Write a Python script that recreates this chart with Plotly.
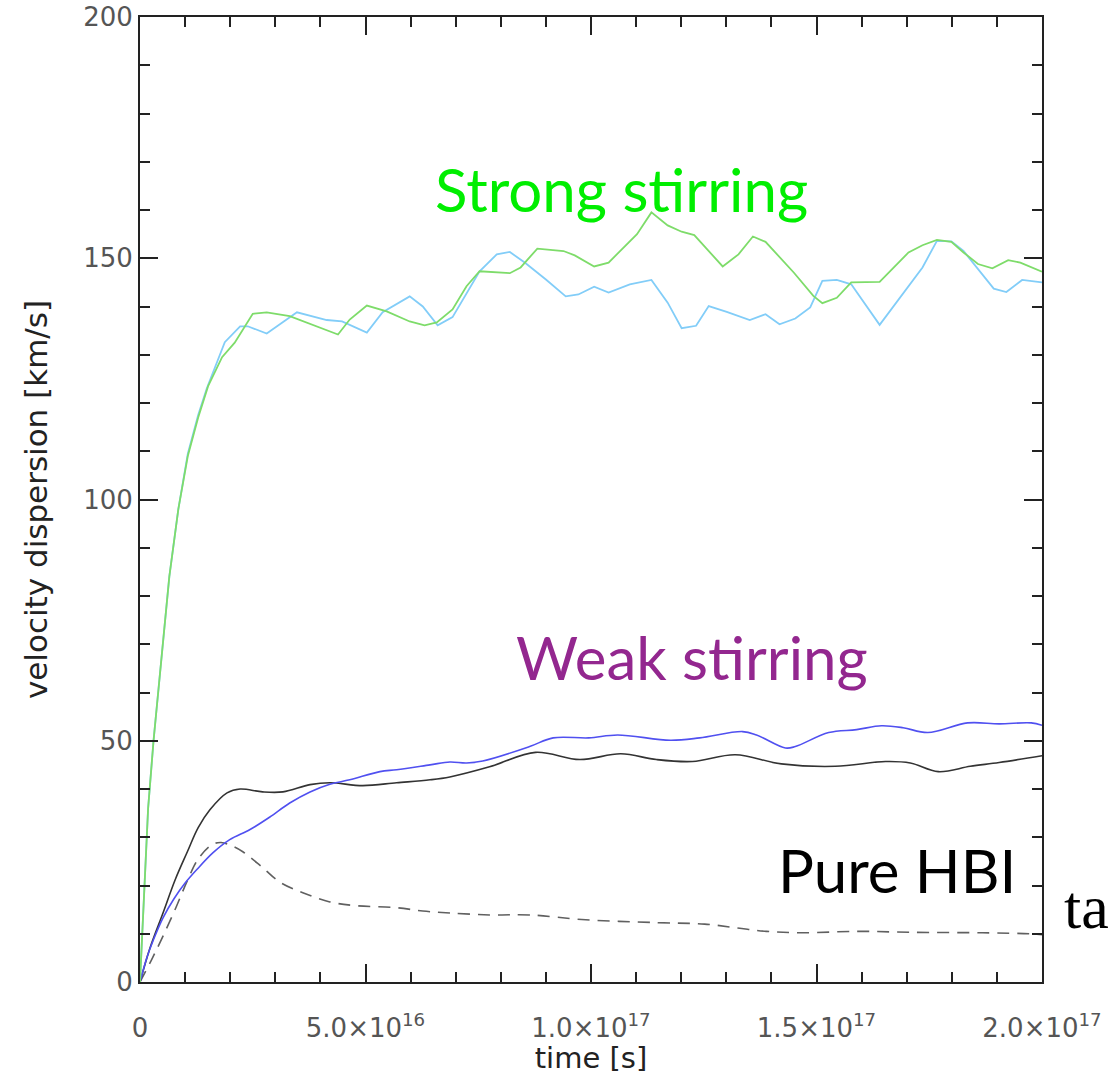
import plotly.graph_objects as go

# ---------------- data (time in units of 1e16 s, velocity dispersion in km/s) ----------------
strong_green_t = [0, 0.18, 0.30, 0.50, 0.65, 0.85, 1.06, 1.29, 1.51, 1.82, 2.10, 2.50, 2.81, 3.32, 4.39, 4.65,
                  5.03, 5.47, 5.98, 6.31, 6.58, 6.93, 7.24, 7.53, 8.20, 8.44, 8.81, 9.39, 9.64, 10.07, 10.39,
                  11.02, 11.34, 11.70, 12.01, 12.29, 12.92, 13.27, 13.59, 13.87, 14.22, 14.50, 14.93, 15.13,
                  15.45, 15.77, 16.40, 16.72, 17.04, 17.35, 17.67, 17.99, 18.26, 18.58, 18.90, 19.25, 19.52, 20.0]
strong_green_v = [0, 36, 50, 70, 84, 98, 109, 117, 123.5, 129.5, 132.5, 138.5, 138.8, 138, 134.2, 137.3,
                  140.2, 139, 136.9, 136.1, 136.7, 139.4, 144.2, 147.3, 146.9, 148.1, 152, 151.5, 150.6, 148.3, 149.1,
                  155, 159.5, 156.8, 155.5, 154.8, 148.3, 150.8, 154.5, 153.4, 149.8, 147, 142.2, 140.7,
                  141.8, 145, 145.1, 148.1, 151.2, 152.7, 153.8, 153.4, 151.2, 148.8, 147.9, 149.6, 149.1, 147.2]

strong_blue_t = [0, 0.18, 0.30, 0.50, 0.65, 0.85, 1.06, 1.29, 1.48, 1.88, 2.22, 2.39, 2.81, 3.48, 4.14, 4.48,
                 5.03, 5.38, 5.98, 6.27, 6.60, 6.93, 7.53, 7.91, 8.20, 8.53, 9.00, 9.44, 9.72, 10.07, 10.39,
                 10.86, 11.34, 11.70, 12.01, 12.33, 12.61, 13.01, 13.52, 13.87, 14.18, 14.53, 14.86, 15.13,
                 15.45, 15.77, 16.40, 17.35, 17.67, 17.99, 18.26, 18.93, 19.21, 19.56, 20.0]
strong_blue_v = [0, 36, 50, 70, 84, 98, 109.5, 117.5, 123, 132.6, 135.9, 135.9, 134.4, 138.8, 137.2, 136.9,
                 134.6, 138.8, 142.1, 140, 136.1, 137.8, 147.3, 150.8, 151.3, 149.1, 145.6, 142.1, 142.5, 144.1, 142.9,
                 144.6, 145.5, 140.8, 135.5, 136, 140.1, 138.9, 137.2, 138.4, 136.3, 137.5, 139.8, 145.3,
                 145.5, 144.6, 136.2, 148.1, 153.6, 153.5, 151.5, 143.7, 143, 145.5, 145]

weak_blue_t = [0, 0.15, 0.30, 0.51, 0.75, 1.0, 1.26, 1.62, 1.99, 2.44, 2.88, 3.32, 3.77, 4.21, 4.65, 5.32, 5.69,
               6.43, 6.87, 7.24, 7.60, 8.64, 9.16, 9.95, 10.59, 11.76, 12.41, 13.36, 13.67, 14.31, 14.53,
               15.27, 15.89, 16.44, 16.92, 17.47, 18.35, 19.05, 19.76, 20.0]
weak_blue_v = [0, 5, 8.8, 13.3, 17.2, 20.5, 23.3, 26.8, 29.5, 31.6, 34.2, 37.1, 39.4, 41.0, 41.9, 43.6, 44,
               45, 45.6, 45.4, 45.8, 48.8, 50.6, 50.6, 51.2, 50.1, 50.6, 51.9, 51.2, 48.5, 48.8,
               51.7, 52.3, 53.1, 52.7, 51.7, 53.7, 53.5, 53.7, 53.2]

weak_black_t = [0, 0.22, 0.51, 0.78, 1.05, 1.29, 1.55, 1.93, 2.22, 2.72, 3.17, 3.77, 4.21, 4.94, 5.69,
                6.43, 6.87, 7.75, 8.77, 9.75, 10.66, 11.45, 12.25, 13.20, 14.22, 15.42, 16.53, 17.08, 17.70,
                18.41, 19.05, 20.0]
weak_black_v = [0, 7.0, 14.3, 21.2, 27.0, 32.0, 35.7, 39.2, 40, 39.4, 39.4, 40.9, 41.3, 40.7, 41.3,
                41.9, 42.5, 44.6, 47.6, 46.1, 47.3, 46.1, 45.7, 47.1, 45.2, 44.7, 45.7, 45.4, 43.6,
                44.7, 45.5, 46.9]

hbi_t = [0, 0.25, 0.51, 0.8, 1.05, 1.29, 1.60, 1.80, 1.99, 2.28, 2.72, 3.10, 3.61, 4.21, 4.81, 5.69, 6.27, 6.87,
         7.75, 8.64, 9.88, 11.48, 12.52, 13.25, 13.89, 14.69, 15.89, 17.08, 18.68, 19.72, 20.0]
hbi_v = [0, 4.5, 9.5, 15.5, 21.0, 25.5, 28.5, 28.9, 28.4, 27, 23.7, 20.7, 18.5, 16.6, 15.8, 15.4, 14.7, 14.3,
         13.9, 13.9, 12.9, 12.3, 12, 11.2, 10.5, 10.2, 10.5, 10.3, 10.2, 10, 9.8]

x_tick_vals = [0, 5e16, 1e17, 1.5e17, 2e17]
x_tick_text = ["0", "5.0×10<sup>16</sup>", "1.0×10<sup>17</sup>", "1.5×10<sup>17</sup>", "2.0×10<sup>17</sup>"]
y_tick_vals = [0, 50, 100, 150, 200]

UNIT = 1e16


def scale(ts):
    return [t * UNIT for t in ts]


fig = go.Figure()
fig.add_trace(go.Scatter(x=scale(hbi_t), y=hbi_v, mode="lines", line_shape="spline",
                         line=dict(color="#606060", width=1.6, dash="12px,8px")))
fig.add_trace(go.Scatter(x=scale(weak_black_t), y=weak_black_v, mode="lines", line_shape="spline",
                         line=dict(color="#333333", width=1.6)))
fig.add_trace(go.Scatter(x=scale(weak_blue_t), y=weak_blue_v, mode="lines", line_shape="spline",
                         line=dict(color="#5050f0", width=1.6)))
fig.add_trace(go.Scatter(x=scale(strong_blue_t), y=strong_blue_v, mode="lines",
                         line=dict(color="#82cdf8", width=1.8)))
fig.add_trace(go.Scatter(x=scale(strong_green_t), y=strong_green_v, mode="lines",
                         line=dict(color="#7edc6a", width=1.8)))

axis_common = dict(
    showline=True, linecolor="#222222", linewidth=2, mirror="ticks",
    ticks="inside", ticklen=18, tickwidth=2, tickcolor="#222222",
    showgrid=False, zeroline=False, automargin=False,
    tickfont=dict(family="DejaVu Sans", size=26, color="#555555"),
)

fig.update_xaxes(range=[0, 2e17], tickvals=x_tick_vals, ticktext=x_tick_text, ticklabelstandoff=22,
                 minor=dict(dtick=1e16, tick0=0, ticks="inside", ticklen=10, tickwidth=2, tickcolor="#222222"),
                 title=dict(text="time [s]", font=dict(family="DejaVu Sans", size=29, color="#222222"), standoff=12),
                 **axis_common)
fig.update_yaxes(range=[0, 200], tickvals=y_tick_vals, ticktext=[str(v) for v in y_tick_vals],
                 minor=dict(dtick=10, tick0=0, ticks="inside", ticklen=10, tickwidth=2, tickcolor="#222222"),
                 title=dict(text="velocity dispersion [km/s]", font=dict(family="DejaVu Sans", size=31, color="#222222"),
                            standoff=26),
                 **axis_common)

ann_font = "Lato"
fig.add_annotation(x=10.68 * UNIT, y=164.3, text="Strong stirring", showarrow=False,
                   font=dict(family=ann_font, size=60, color="#00ee00"), xanchor="center", yanchor="middle")
fig.add_annotation(x=12.25 * UNIT, y=67.4, text="Weak stirring", showarrow=False,
                   font=dict(family=ann_font, size=60, color="#93278f"), xanchor="center", yanchor="middle")
fig.add_annotation(x=16.78 * UNIT, y=23.2, text="Pure HBI", showarrow=False,
                   font=dict(family=ann_font, size=60, color="#000000"), xanchor="center", yanchor="middle")
fig.add_annotation(xref="paper", x=1.0225, y=15.6, text="ta", showarrow=False,
                   font=dict(family="Liberation Serif, serif", size=62, color="#000000"),
                   xanchor="left", yanchor="middle")

fig.update_layout(
    width=1116, height=1075,
    margin=dict(l=140, r=74, t=17, b=93),
    paper_bgcolor="white", plot_bgcolor="white",
    showlegend=False,
)

fig.write_html("out.html")
